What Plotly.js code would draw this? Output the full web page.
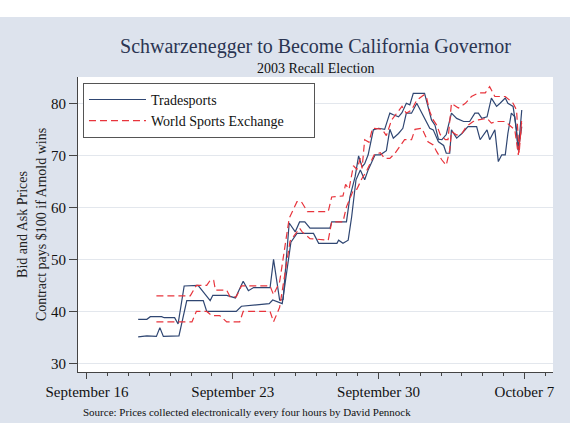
<!DOCTYPE html>
<html>
<head>
<meta charset="utf-8">
<script src="https://cdn.plot.ly/plotly-3.0.1.min.js"></script>
<style>
  html, body { margin: 0; padding: 0; background: #ffffff; }
  #chart { width: 570px; height: 423px; }
</style>
</head>
<body>
<div id="chart"></div>
<script>
// ---- Data ----
const tsAskTime = ['2003-09-18 11:00','2003-09-18 21:00','2003-09-19 01:00','2003-09-19 14:00','2003-09-19 17:00','2003-09-20 05:00','2003-09-20 09:00','2003-09-20 16:00','2003-09-21 08:00','2003-09-21 22:00','2003-09-22 01:00','2003-09-22 17:00','2003-09-23 03:00','2003-09-23 12:00','2003-09-23 18:00','2003-09-24 00:00','2003-09-24 19:00','2003-09-24 23:00','2003-09-25 06:00','2003-09-25 10:00','2003-09-25 17:00','2003-09-26 00:00','2003-09-26 05:00','2003-09-26 11:00','2003-09-26 17:00','2003-09-27 16:00','2003-09-27 18:00','2003-09-28 11:00','2003-09-28 15:00','2003-09-28 21:00','2003-09-29 01:00','2003-09-29 05:00','2003-09-29 08:00','2003-09-29 12:00','2003-09-29 18:00','2003-09-30 00:00','2003-09-30 07:00','2003-09-30 13:00','2003-09-30 17:00','2003-09-30 23:00','2003-10-01 03:00','2003-10-01 08:00','2003-10-01 12:00','2003-10-01 16:00','2003-10-02 05:00','2003-10-02 09:00','2003-10-02 13:00','2003-10-02 17:00','2003-10-02 21:00','2003-10-03 01:00','2003-10-03 06:00','2003-10-03 12:00','2003-10-03 18:00','2003-10-04 02:00','2003-10-04 09:00','2003-10-04 15:00','2003-10-04 19:00','2003-10-04 23:00','2003-10-05 05:00','2003-10-05 10:00','2003-10-05 16:00','2003-10-05 20:00','2003-10-06 02:00','2003-10-06 05:00','2003-10-06 11:00','2003-10-06 15:00','2003-10-06 17:00','2003-10-06 21:00'];
const tsAsk = [38.5,38.5,39.0,39.0,38.8,38.8,37.6,44.9,45.0,42.1,43.1,43.1,42.6,45.8,44.0,44.6,44.6,50.0,42.2,42.3,57.0,55.3,57.2,57.2,56.0,56.0,57.2,57.2,62.0,65.9,69.9,67.8,68.4,70.1,74.9,75.2,75.0,78.1,77.8,77.4,78.2,80.0,79.7,81.9,81.9,79.4,76.8,75.8,73.1,73.0,74.0,78.1,77.1,76.5,76.5,78.1,78.1,77.1,77.4,81.0,79.4,80.0,81.0,80.0,79.4,74.9,71.0,78.7];

const tsBidTime = ['2003-09-18 11:00','2003-09-18 21:00','2003-09-19 08:00','2003-09-19 12:00','2003-09-19 16:00','2003-09-20 10:00','2003-09-20 19:00','2003-09-21 14:00','2003-09-21 18:00','2003-09-23 04:00','2003-09-23 10:00','2003-09-24 04:00','2003-09-24 18:00','2003-09-24 22:00','2003-09-25 06:00','2003-09-25 09:00','2003-09-25 19:00','2003-09-26 02:00','2003-09-26 21:00','2003-09-27 03:00','2003-09-28 00:00','2003-09-28 02:00','2003-09-28 07:00','2003-09-28 13:00','2003-09-28 17:00','2003-09-28 22:00','2003-09-29 03:00','2003-09-29 08:00','2003-09-29 12:00','2003-09-29 20:00','2003-09-30 02:00','2003-09-30 09:00','2003-09-30 13:00','2003-09-30 17:00','2003-09-30 23:00','2003-10-01 04:00','2003-10-01 08:00','2003-10-01 14:00','2003-10-01 20:00','2003-10-02 02:00','2003-10-02 05:00','2003-10-02 11:00','2003-10-02 15:00','2003-10-02 21:00','2003-10-03 03:00','2003-10-03 06:00','2003-10-03 10:00','2003-10-03 12:00','2003-10-03 18:00','2003-10-04 00:00','2003-10-04 07:00','2003-10-04 17:00','2003-10-04 21:00','2003-10-05 05:00','2003-10-05 08:00','2003-10-05 14:00','2003-10-05 18:00','2003-10-05 22:00','2003-10-06 02:00','2003-10-06 05:00','2003-10-06 09:00','2003-10-06 13:00','2003-10-06 17:00','2003-10-06 21:00'];
const tsBid = [35.1,35.3,35.2,36.9,35.2,35.3,42.1,42.1,40.0,40.0,41.0,41.3,41.5,42.2,41.6,41.5,53.3,55.0,55.0,53.1,53.1,53.7,53.1,53.7,58.2,65.3,67.2,65.3,67.2,70.1,70.1,70.9,75.0,73.3,74.2,75.2,78.1,78.1,80.0,78.1,77.1,75.2,74.9,72.6,71.9,70.4,70.4,74.9,73.3,74.2,75.5,75.5,73.0,74.9,73.0,74.9,68.8,70.1,70.1,74.2,78.1,77.4,71.0,75.5];

const wseAskTime = ['2003-09-19 08:00','2003-09-20 23:00','2003-09-21 06:00','2003-09-21 18:00','2003-09-21 22:00','2003-09-22 02:00','2003-09-22 04:00','2003-09-22 17:00','2003-09-22 21:00','2003-09-23 04:00','2003-09-23 10:00','2003-09-24 19:00','2003-09-24 23:00','2003-09-25 06:00','2003-09-25 17:00','2003-09-26 02:00','2003-09-26 07:00','2003-09-26 14:00','2003-09-27 14:00','2003-09-27 18:00','2003-09-28 07:00','2003-09-28 10:00','2003-09-28 14:00','2003-09-28 19:00','2003-09-28 23:00','2003-09-29 03:00','2003-09-29 05:00','2003-09-29 08:00','2003-09-29 13:00','2003-09-29 17:00','2003-09-30 04:00','2003-09-30 09:00','2003-09-30 15:00','2003-09-30 21:00','2003-10-01 03:00','2003-10-01 08:00','2003-10-01 14:00','2003-10-01 20:00','2003-10-02 04:00','2003-10-02 07:00','2003-10-02 11:00','2003-10-02 15:00','2003-10-02 19:00','2003-10-02 23:00','2003-10-03 05:00','2003-10-03 08:00','2003-10-03 12:00','2003-10-03 20:00','2003-10-04 04:00','2003-10-04 11:00','2003-10-04 19:00','2003-10-05 03:00','2003-10-05 08:00','2003-10-05 14:00','2003-10-06 02:00','2003-10-06 07:00','2003-10-06 11:00','2003-10-06 15:00','2003-10-06 18:00','2003-10-06 21:00'];
const wseAsk = [43.0,43.0,45.0,45.0,46.0,46.0,44.1,44.1,42.8,42.8,44.9,44.9,43.2,45.7,57.9,61.1,61.1,59.2,59.2,62.0,62.2,64.4,63.5,68.0,67.3,69.4,67.5,73.0,72.5,75.2,75.0,73.8,76.8,78.1,79.4,78.1,78.7,80.6,81.6,81.3,78.4,76.8,75.8,74.0,73.0,73.0,80.0,79.1,80.0,81.3,82.0,82.0,83.2,81.3,81.3,80.6,80.0,78.7,70.4,77.1];

const wseBidTime = ['2003-09-19 08:00','2003-09-21 01:00','2003-09-21 06:00','2003-09-21 18:00','2003-09-22 00:00','2003-09-22 09:00','2003-09-22 17:00','2003-09-23 08:00','2003-09-23 12:00','2003-09-24 19:00','2003-09-24 23:00','2003-09-25 06:00','2003-09-25 18:00','2003-09-25 22:00','2003-09-26 05:00','2003-09-26 08:00','2003-09-26 17:00','2003-09-27 14:00','2003-09-27 18:00','2003-09-28 07:00','2003-09-28 11:00','2003-09-28 19:00','2003-09-28 23:00','2003-09-29 05:00','2003-09-29 10:00','2003-09-29 19:00','2003-09-30 02:00','2003-09-30 07:00','2003-09-30 13:00','2003-09-30 19:00','2003-10-01 01:00','2003-10-01 06:00','2003-10-01 14:00','2003-10-01 18:00','2003-10-02 02:00','2003-10-02 05:00','2003-10-02 09:00','2003-10-02 15:00','2003-10-02 19:00','2003-10-03 01:00','2003-10-03 06:00','2003-10-03 10:00','2003-10-03 12:00','2003-10-03 18:00','2003-10-04 00:00','2003-10-04 05:00','2003-10-04 13:00','2003-10-04 19:00','2003-10-05 05:00','2003-10-05 10:00','2003-10-05 16:00','2003-10-06 02:00','2003-10-06 07:00','2003-10-06 13:00','2003-10-06 17:00','2003-10-06 21:00'];
const wseBid = [38.0,38.0,40.0,40.0,39.2,39.2,38.0,38.0,40.0,40.0,38.0,40.8,53.5,54.4,56.0,55.3,54.0,53.7,57.2,57.2,60.1,63.3,63.5,65.6,66.9,70.1,70.5,69.4,69.4,70.4,71.7,73.0,73.0,75.0,75.2,74.2,72.6,72.0,70.7,69.1,68.1,71.0,74.6,73.9,74.2,75.5,76.5,76.8,77.1,76.2,76.5,76.5,75.8,74.9,70.1,76.2];

const seriesNames = ['Tradesports', 'World Sports Exchange'];
const xTickVals = ['2003-09-16', '2003-09-23', '2003-09-30', '2003-10-07'];
const xTickText = ['September 16', 'September 23', 'September 30', 'October 7'];
const yTickVals = [30, 40, 50, 60, 70, 80];
const yTickText = ['30', '40', '50', '60', '70', '80'];

const titleText = 'Schwarzenegger to Become California Governor';
const subtitleText = '2003 Recall Election';
const yTitleText = 'Bid and Ask Prices<br>Contract pays $100 if Arnold wins';
const sourceText = 'Source: Prices collected electronically every four hours by David Pennock';

// ---- Styling ----
const FONT = 'Liberation Serif, Times New Roman, serif';
const NAVY = '#2f4672';
const RED = '#e8343c';
const LEGEND_PAD = '\u00a0'.repeat(7);  // widens the legend box like the original

const tsLine = { color: NAVY, width: 1.2 };
const wseLine = { color: RED, width: 1.2, dash: '7px,4px' };

const traces = [
  { x: tsAskTime, y: tsAsk, type: 'scatter', mode: 'lines', name: seriesNames[0],
    legendgroup: 'ts', showlegend: true, line: tsLine, hoverinfo: 'x+y' },
  { x: tsBidTime, y: tsBid, type: 'scatter', mode: 'lines', name: seriesNames[0],
    legendgroup: 'ts', showlegend: false, line: tsLine, hoverinfo: 'x+y' },
  { x: wseAskTime, y: wseAsk, type: 'scatter', mode: 'lines', name: seriesNames[1] + LEGEND_PAD,
    legendgroup: 'wse', showlegend: true, line: wseLine, hoverinfo: 'x+y' },
  { x: wseBidTime, y: wseBid, type: 'scatter', mode: 'lines', name: seriesNames[1],
    legendgroup: 'wse', showlegend: false, line: wseLine, hoverinfo: 'x+y' }
];

const layout = {
  width: 570,
  height: 423,
  margin: { l: 78, r: 17, t: 77, b: 51, pad: 0 },
  paper_bgcolor: '#dde3ed',
  plot_bgcolor: '#ffffff',
  font: { family: FONT, color: '#111111', size: 14 },
  showlegend: true,
  title: {
    text: titleText,
    font: { family: FONT, size: 20, color: '#2b3552' },
    xref: 'paper', x: 0.5, xanchor: 'center',
    yref: 'container', y: 1 - 46 / 423, yanchor: 'middle'
  },
  xaxis: {
    type: 'date',
    range: ['2003-09-15 13:40', '2003-10-08 09:00'],
    tickmode: 'array',
    tickvals: xTickVals,
    ticktext: xTickText,
    ticks: 'outside', ticklen: 6, tickwidth: 1, tickcolor: '#444444',
    tickfont: { family: FONT, size: 15, color: '#111111' },
    showline: true, linecolor: '#444444', linewidth: 1,
    showgrid: false, zeroline: false, fixedrange: true,
    minor: { tickmode: 'linear', tick0: '2003-09-16', dtick: 86400000,
             ticks: 'outside', ticklen: 3, tickwidth: 1, tickcolor: '#444444', showgrid: false }
  },
  yaxis: {
    range: [28.37, 85.05],
    tickmode: 'array',
    tickvals: yTickVals,
    ticktext: yTickText,
    ticks: 'outside', ticklen: 8, tickwidth: 1, tickcolor: '#444444',
    tickfont: { family: FONT, size: 15, color: '#111111' },
    showline: true, linecolor: '#444444', linewidth: 1,
    showgrid: true, gridcolor: '#e3e7ed', gridwidth: 1,
    zeroline: false, fixedrange: true,
    title: { text: yTitleText, font: { family: FONT, size: 14, color: '#222222' }, standoff: 1 }
  },
  legend: {
    x: 0.0105, xanchor: 'left',
    y: 0.98, yanchor: 'top',
    bgcolor: '#ffffff', bordercolor: '#555555', borderwidth: 1,
    font: { family: FONT, size: 14, color: '#111111' },
    itemwidth: 57,
    tracegroupgap: 0
  },
  shapes: [
    { type: 'rect', xref: 'paper', yref: 'paper', layer: 'below',
      x0: -0.3, x1: 1.2, y0: 1 + 60 / 295, y1: 1 + 90 / 295,
      fillcolor: '#ffffff', line: { width: 0 } }
  ],
  annotations: [
    { text: subtitleText, xref: 'paper', yref: 'paper', x: 0.5, y: 1 + 9 / 295,
      xanchor: 'center', yanchor: 'middle', showarrow: false,
      font: { family: FONT, size: 14, color: '#111111' } },
    { text: sourceText, xref: 'paper', yref: 'paper', x: 3 / 475, y: -40 / 295,
      xanchor: 'left', yanchor: 'middle', showarrow: false,
      font: { family: FONT, size: 11, color: '#111111' } }
  ]
};

Plotly.newPlot('chart', traces, layout, { displayModeBar: false, staticPlot: true });
</script>
</body>
</html>
